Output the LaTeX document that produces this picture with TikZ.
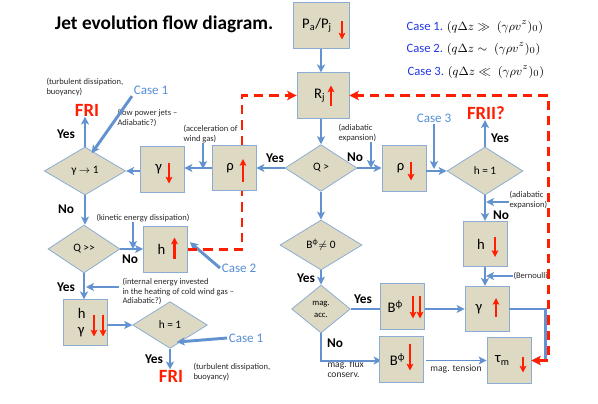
\documentclass[tikz,border=0pt]{standalone}
\usepackage{fontspec}
\setmainfont{Carlito}
\usetikzlibrary{shapes.geometric,arrows.meta,calc}

\definecolor{boxfill}{RGB}{221,217,195}
\definecolor{boxline}{RGB}{140,172,212}
\definecolor{flowc}{RGB}{99,146,208}
\definecolor{casec}{RGB}{85,142,213}
\definecolor{legc}{RGB}{35,55,230}
\definecolor{hot}{RGB}{255,30,0}
\definecolor{notec}{RGB}{40,40,40}

\tikzset{every picture/.style={line width=0.75pt}}

\begin{document}
\begin{tikzpicture}[x=0.75pt,y=0.75pt,yscale=-1,xscale=1,
  box/.style={draw=boxline,fill=boxfill,line width=0.6pt,minimum width=33pt,minimum height=34pt,inner sep=0pt,font=\fontsize{11}{12}\selectfont},
  dia/.style={diamond,draw=boxline,fill=boxfill,line width=0.6pt,inner sep=0pt,font=\fontsize{8.5}{10}\selectfont},
  flow/.style={draw=flowc,line width=1.5pt,-{Stealth[length=6pt,width=6pt,inset=1.5pt]}},
  bigflow/.style={flow,line width=2.2pt},
  rarr/.style={draw=hot,line width=1.6pt,-{Stealth[length=5pt,width=5pt,inset=1pt]}},
  feedback/.style={draw=hot,line width=2.2pt,dash pattern=on 7pt off 4.5pt},
  note/.style={font=\fontsize{6.4}{7.2}\selectfont,align=left,inner sep=0pt,text=notec},
  ans/.style={font=\bfseries\fontsize{10}{12}\selectfont,inner sep=0pt},
  outcome/.style={font=\bfseries\fontsize{14}{16}\selectfont,text=hot,inner sep=0pt},
  casetag/.style={font=\fontsize{9.8}{11}\selectfont,text=casec,inner sep=1pt},
  legend/.style={font=\fontsize{9.5}{11}\selectfont,inner sep=0pt}]
\useasboundingbox (0,0) rectangle (598,403);

% Title and legend
\node[anchor=west,font=\bfseries\fontsize{14.5}{16}\selectfont] (title) at (50,24) {Jet evolution flow diagram.};
\node[legend,anchor=west] (leg1) at (406,27) {\textcolor{legc}{Case 1.} $(q\Delta z \gg\; (\gamma\rho v^z)_0)$};
\node[legend,anchor=west] (leg2) at (406,49) {\textcolor{legc}{Case 2.} $(q\Delta z \sim\; (\gamma\rho v^z)_0)$};
\node[legend,anchor=west] (leg3) at (407,72) {\textcolor{legc}{Case 3.} $(q\Delta z \ll\; (\gamma\rho v^z)_0)$};

% Central column
\node[box,minimum width=42pt] (pp) at (321,25.5) {P\textsubscript{a}/P\textsubscript{j}\hspace*{6pt}};
\node[box,minimum width=39pt] (rj) at (323,95.5) {R\textsubscript{j}\hspace*{5pt}};
\node[dia,minimum width=54pt,minimum height=35pt] (qgt) at (321,168) {Q >};
\node[dia,minimum width=61.5pt,minimum height=37.5pt] (bne) at (321,245) {B\textsuperscript{ϕ}$\neq$ 0};
\node[dia,minimum width=44pt,minimum height=36pt,font=\fontsize{6.5}{9}\selectfont,align=center] (macc) at (321,309) {mag.\\acc.};

% Right branch
\node[box] (rhodn) at (404,168.5) {ρ\hspace*{5pt}};
\node[dia,minimum width=57pt,minimum height=36pt] (hone) at (485,171) {h = 1};
\node[outcome] (frii) at (486,113) {FRII?};
\node[box] (hdn) at (485,244) {h\hspace*{6pt}};
\node[box] (gamup) at (487,309) {γ\hspace*{12pt}};
\node[box] (taum) at (509,360.5) {τ\textsubscript{m}\hspace*{10pt}};

% Left branch
\node[box] (rhoup) at (234,168) {ρ\hspace*{6pt}};
\node[box] (gamdn) at (162,169.5) {γ\hspace*{5pt}};
\node[dia,minimum width=61pt,minimum height=36pt] (gone) at (85,171) {γ $\rightarrow$ 1};
\node[outcome] (fri1) at (87,110) {FRI};
\node[dia,minimum width=54pt,minimum height=36pt] (qgg) at (84,249) {Q >{}>};
\node[box] (hup) at (165.5,249.5) {h\hspace*{6pt}};
\node[box,align=left,font=\fontsize{11}{12}\selectfont] (hg) at (85,322.5) {h\hspace*{5pt}\\γ\hspace*{5pt}};
\node[dia,minimum width=56pt,minimum height=35pt] (htwo) at (170,325) {h = 1};
\node[outcome] (fri2) at (171,376) {FRI};

% Case tags
\node[casetag] (case1a) at (151,90) {Case 1};
\node[casetag] (case2) at (239,268) {Case 2};
\node[casetag] (case1b) at (246,338) {Case 1};
\node[casetag] (case3) at (434,118) {Case 3};

% Notes
\node[note,anchor=north west] (turb1) at (46,78) {(turbulent dissipation,\\buoyancy)};
\node[note,anchor=north west] (lowpow) at (117,109) {(low power jets –\\Adiabatic?)};
\node[note,anchor=north west] (accel) at (183,125) {(acceleration of\\wind gas)};
\node[note,anchor=north west] (adiab1) at (338,124) {(adiabatic\\expansion)};
\node[note,anchor=north west] (adiab2) at (509,191) {(adiabatic\\expansion)};
\node[note,anchor=west] (bern) at (513,276) {(Bernoulli)};
\node[note,anchor=west] (kin) at (96,218) {(kinetic energy dissipation)};
\node[note,anchor=north west] (intern) at (122,278) {(internal energy invested\\in the heating of cold wind gas –\\Adiabatic?)};
\node[note,anchor=north west] (turb2) at (193,363) {(turbulent dissipation,\\buoyancy)};
\node[note,anchor=north west,font=\fontsize{7.2}{8}\selectfont] (flux) at (327,360) {mag. flux\\conserv.};
\node[note,font=\fontsize{7.2}{8}\selectfont] (tens) at (456,369) {mag. tension};

% Yes / No
\node[ans] (y1) at (275,158) {Yes};
\node[ans] (n1) at (355,157) {No};
\node[ans] (y2) at (500,138) {Yes};
\node[ans] (n2) at (501,215) {No};
\node[ans] (y3) at (66,134) {Yes};
\node[ans] (n3) at (66,209) {No};
\node[ans] (n4) at (130,259) {No};
\node[ans] (y4) at (66,287) {Yes};
\node[ans] (y5) at (154,359) {Yes};
\node[ans] (y6) at (306,278) {Yes};
\node[ans] (y7) at (363,299) {Yes};
\node[ans] (n5) at (335,343) {No};

% Flow arrows
\draw[flow] (pp) -- (pp.south |- rj.north);
\draw[flow] (rj.south -| qgt.north) -- (qgt.north);
\draw[flow] (qgt.east) -- (rhodn.west |- qgt.east);
\draw[flow] (qgt.west) -- (rhoup.east |- qgt.west);
\draw[flow] (rhodn.east |- hone.west) -- (hone.west);
\draw[flow] (hone.north) -- (hone.north |- frii.south);
\draw[flow] (hone.south) -- (hone.south |- hdn.north);
\draw[flow] (hdn.south -| gamup.north) ++(-2,0) -- ($(gamup.north)+(-2,0)$);
\draw[bigflow] (gamup.east) -- ++(36,0) |- (taum.east);
\draw[flow] (rhoup.west) -- (rhoup.west -| gamdn.east);
\draw[flow] (gamdn.west |- gone.east) -- (gone.east);
\draw[flow] (gone.north) -- (gone.north |- fri1.south);
\draw[flow] (gone.south) -- (gone.south |- qgg.north);
\draw[flow] (qgg.east) -- (qgg.east -| hup.west);
\draw[flow] (qgg.south) -- (qgg.south |- hg.north);
\draw[flow] (hg.east |- htwo.west) -- (htwo.west);
\draw[flow] (htwo.south) -- (htwo.south |- fri2.north);
\draw[flow] (qgt.south) -- (bne.north);
\draw[flow] (bne.south) -- (macc.north);
\draw[flow] (macc.south) |- (rhodn.west |- taum.west);
\draw[flow,line width=1.1pt] (rhodn.east |- taum.west) -- (taum.west);
\draw[bigflow] (macc.east) -- (gamup.west);

% B-phi boxes over the magnetic line
\node[box] (bb) at (402,306.5) {B\textsuperscript{ϕ}\hspace*{10pt}};
\node[box] (bs) at (401.5,359.5) {B\textsuperscript{ϕ}\hspace*{6pt}};

% Case arrows and side notes
\coordinate (c3end) at (434,169);
\draw[bigflow] (case3.south) -- (c3end);
\draw[bigflow] (case1a.south west) -- ([xshift=5pt,yshift=5pt]gone.north);
\draw[bigflow] (case2.west) -- ([xshift=1.5pt,yshift=-5.5pt]hup.east);
\draw[bigflow] (case1b.west) -- ([xshift=5pt,yshift=-5pt]htwo.south);
\coordinate (a1) at (371,168);
\draw[flow,line width=1.1pt] (a1 |- adiab1.south) -- (a1);
\coordinate (a2) at (486,202);
\draw[flow,line width=1.1pt] (a2 -| adiab2.west) -- (a2);
\coordinate (a3) at (203,169);
\draw[flow,line width=1.1pt] (a3 |- accel.south) -- (a3);
\coordinate (a4) at (133,249);
\draw[flow,line width=1.1pt] (a4 |- kin.south) -- (a4);
\coordinate (a5) at (86,287);
\draw[flow,line width=1.1pt] (a5 -| intern.west) ++(-3,0) -- (a5);
\coordinate (a6) at (486,276);
\draw[flow,line width=1.1pt] (a6 -| bern.west) -- (a6);

% Feedback loops
\draw[feedback] (hup.east) -| ([xshift=6pt]rhoup.south);
\draw[feedback,-{Stealth[length=7pt,width=7pt,inset=1.5pt]}] ([xshift=6pt]rhoup.north) |- (rj.west);
\draw[feedback,{Stealth[length=7pt,width=7pt,inset=1.5pt]}-{Stealth[length=7pt,width=7pt,inset=1.5pt]}] (taum.east) -- ++(17,0) |- (rj.east);

% Red trend arrows
\draw[rarr] ($(pp)+(21,-4)$) -- ++(0,18);
\draw[rarr] ($(rj)+(8,10)$) -- ++(0,-20);
\draw[rarr] ($(rhoup)+(9,14)$) -- ++(0,-23);
\draw[rarr] ($(gamdn)+(7,-7)$) -- ++(0,21);
\draw[rarr] ($(hup)+(9,9)$) -- ++(0,-21);
\draw[rarr] ($(rhodn)+(7,-7)$) -- ++(0,19);
\draw[rarr] ($(hdn)+(10,-7)$) -- ++(0,20);
\draw[rarr] ($(gamup)+(9,8)$) -- ++(0,-19);
\draw[rarr] ($(taum)+(14,-4)$) -- ++(0,16);
\draw[rarr] ($(bb)+(11,-11)$) -- ++(0,23);
\draw[rarr] ($(bb)+(18,-11)$) -- ++(0,23);
\draw[rarr] ($(bs)+(8.5,-16)$) -- ++(0,27);
\draw[rarr] ($(hg)+(9,-8)$) -- ++(0,22);
\draw[rarr] ($(hg)+(18,-8)$) -- ++(0,22);
\end{tikzpicture}
\end{document}
